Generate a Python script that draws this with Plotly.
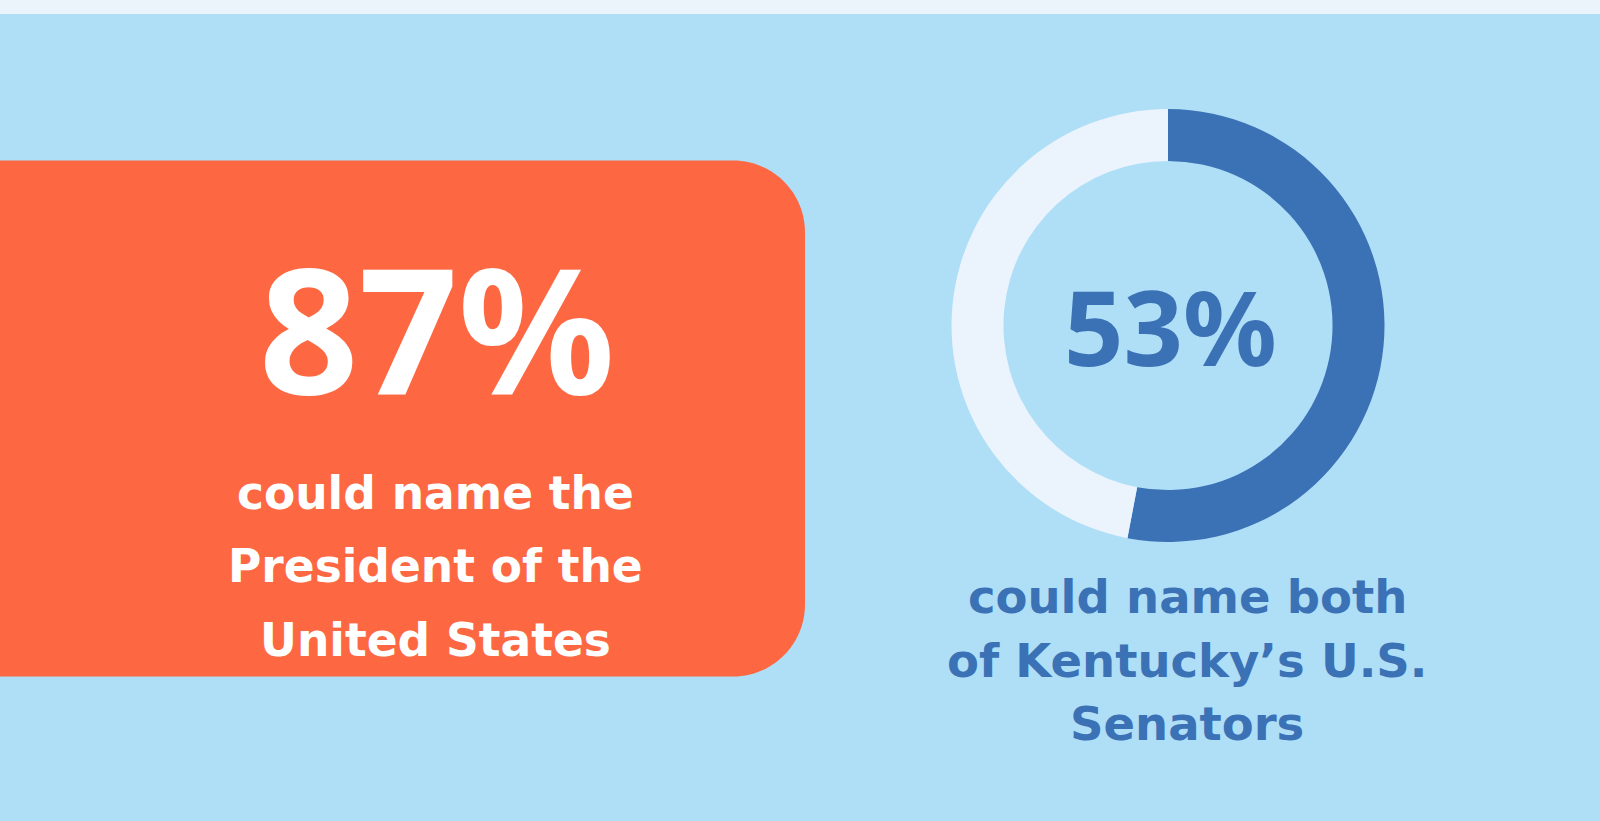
import plotly.graph_objects as go

# ---- data ----
president_pct = 87
senator_labels = ["Could name both", "Could not"]
senator_values = [53, 47]
president_lines = ["could name the", "President of the", "United States"]
senator_lines = ["could name both", "of Kentucky’s U.S.", "Senators"]

W, H = 1600, 821
BG = "#AFDEF7"
STRIP = "#EBF3FB"
ORANGE = "#FD6843"
DARK = "#3B71B5"
LIGHT = "#EBF3FC"
NUM_FONT = "Noto Sans"
TXT_FONT = "DejaVu Sans"

fig = go.Figure()

# donut
cx, cy, R = 1168, 325.5, 216.5
fig.add_trace(go.Pie(
    labels=senator_labels, values=senator_values, hole=0.76,
    sort=False, direction="clockwise", rotation=0,
    marker=dict(colors=[DARK, LIGHT], line=dict(width=0)),
    textinfo="none", hoverinfo="label+percent", showlegend=False,
    domain=dict(x=[(cx - R) / W, (cx + R) / W],
                y=[(H - cy - R) / H, (H - cy + R) / H]),
))

# rounded orange panel (circular corners via cubic bezier)
x0, x1, y0, y1, r = -20, 805, 160.5, 676.5, 72
k = 0.5523 * r
path = (f"M {x0},{y0} L {x1-r},{y0} C {x1-r+k},{y0} {x1},{y0+r-k} {x1},{y0+r} "
        f"L {x1},{y1-r} C {x1},{y1-r+k} {x1-r+k},{y1} {x1-r},{y1} L {x0},{y1} Z")
shapes = [
    dict(type="rect", xref="x", yref="y", x0=-10, x1=W + 10, y0=-5, y1=14,
         fillcolor=STRIP, line=dict(width=0), layer="below"),
    dict(type="path", xref="x", yref="y", path=path,
         fillcolor=ORANGE, line=dict(width=0), layer="below"),
]

ann = []
ann.append(dict(x=437, y=326, xref="x", yref="y", text=f"{president_pct}%",
                showarrow=False, font=dict(family=NUM_FONT, size=174, color="white", weight=700)))
for i, t in enumerate(president_lines):
    ann.append(dict(x=435, y=493 + i * 73.5, xref="x", yref="y", text=t,
                    showarrow=False, font=dict(family=TXT_FONT, size=45.5, color="white", weight=700)))
ann.append(dict(x=1170, y=325.5, xref="x", yref="y", text=f"{senator_values[0]}%",
                showarrow=False, font=dict(family=NUM_FONT, size=104, color=DARK, weight=700)))
for i, t in enumerate(senator_lines):
    ann.append(dict(x=1187, y=597 + i * 63.7, xref="x", yref="y", text=t,
                    showarrow=False, font=dict(family=TXT_FONT, size=46.5, color=DARK, weight=700)))

fig.update_layout(
    autosize=True, margin=dict(l=0, r=0, t=0, b=0),
    paper_bgcolor=BG, plot_bgcolor=BG,
    xaxis=dict(range=[0, W], visible=False, fixedrange=True),
    yaxis=dict(range=[H, 0], visible=False, fixedrange=True),
    shapes=shapes, annotations=ann,
)
fig.write_html(
    "out.html",
    config={"displayModeBar": False},
    default_width=f"{W}px; position:absolute; left:0px; top:0px",
    default_height=f"{H}px",
)
